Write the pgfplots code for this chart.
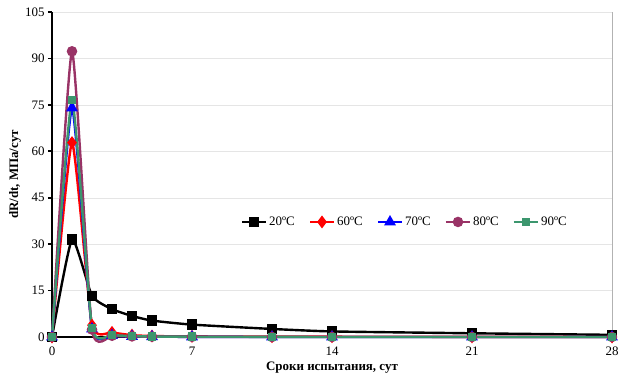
\documentclass[border=0pt]{standalone}
\usepackage{pgfplots}
\pgfplotsset{compat=1.18}
\usepackage{fontspec}
\setmainfont{Liberation Serif}
\definecolor{c80}{RGB}{153,51,102}
\definecolor{c90}{RGB}{60,150,110}
\begin{document}
\begin{tikzpicture}
\begin{axis}[
  at={(52bp,45bp)}, anchor=south west,
  scale only axis, width=560bp, height=325bp,
  xmin=0, xmax=28, ymin=0, ymax=105,
  xtick={0,7,14,21,28}, ytick={0,15,...,105},
  axis x line*=bottom, axis y line*=left,
  x axis line style={line width=2.4bp,-}, y axis line style={line width=2.4bp,-},
  ymajorgrids, grid style={gray!20},
  xtick style={draw=none}, ytick style={line width=1.6bp,black}, tick align=outside,
  major tick length=4bp,
  tick label style={font=\fontsize{13}{15}\selectfont},
  xticklabel style={yshift=-2bp},
  /pgf/number format/assume math mode=true,
  xlabel={\bfseries Сроки испытания, сут}, ylabel={\bfseries dR/dt, МПа/сут},
  label style={font=\fontsize{13}{15}\selectfont},
  xlabel style={at={(0.5,0)}, anchor=center, yshift=-31bp},
  ylabel style={at={(0,0.5)}, anchor=center, yshift=37bp},
  legend columns=5,
  legend style={draw=none, fill=none, at={(0.63,0.354)}, anchor=center, font=\fontsize{13}{15}\selectfont, /tikz/every even column/.append style={column sep=12bp}},
  legend image code/.code={\draw[#1] (0bp,0bp) -- (24bp,0bp); \draw[#1,mark repeat=2,mark phase=2] plot coordinates {(0bp,0bp) (12bp,0bp) (24bp,0bp)};},
  every axis plot/.append style={line width=2.4bp, smooth, tension=0.3},
  clip=false,
]
\draw[gray!60, line width=0.6pt] (axis cs:28,0) -- (axis cs:28,105);
\addplot[black, mark=square*, mark size=4bp, mark options={solid}] coordinates {(0,0) (1,31.5) (2,13.3) (3,9.0) (4,6.8) (5,5.3) (7,4.0) (11,2.6) (14,1.8) (21,1.2) (28,0.7)};
\addlegendentry{20ºС}
\addplot[red, mark=diamond*, mark size=4.5bp] coordinates {(0,0) (1,62.8) (2,3.8) (3,1.5) (4,0.6) (5,0.3) (7,0.2) (11,0.1) (14,0.1) (21,0.05) (28,0)};
\addlegendentry{60ºС}
\addplot[blue, mark=triangle*, mark size=4.5bp] coordinates {(0,0) (1,74) (2,2.6) (3,0.5) (4,0.2) (5,0.1) (7,0.05) (11,0) (14,0) (21,0) (28,0)};
\addlegendentry{70ºС}
\addplot[c80, mark=*, mark size=4bp] coordinates {(0,0) (1,92.3) (2,2.4) (3,0.4) (4,0.2) (5,0.1) (7,0.05) (11,0) (14,0) (21,0) (28,0)};
\addlegendentry{80ºС}
\addplot[c90, mark=square*, mark size=3bp] coordinates {(0,0) (1,76.5) (2,3.0) (3,0.7) (4,0.3) (5,0.15) (7,0.1) (11,0.05) (14,0) (21,0) (28,0)};
\addlegendentry{90ºС}
\end{axis}
\pgfresetboundingbox
\path (0,0) rectangle (622bp,382bp);
\end{tikzpicture}
\end{document}
